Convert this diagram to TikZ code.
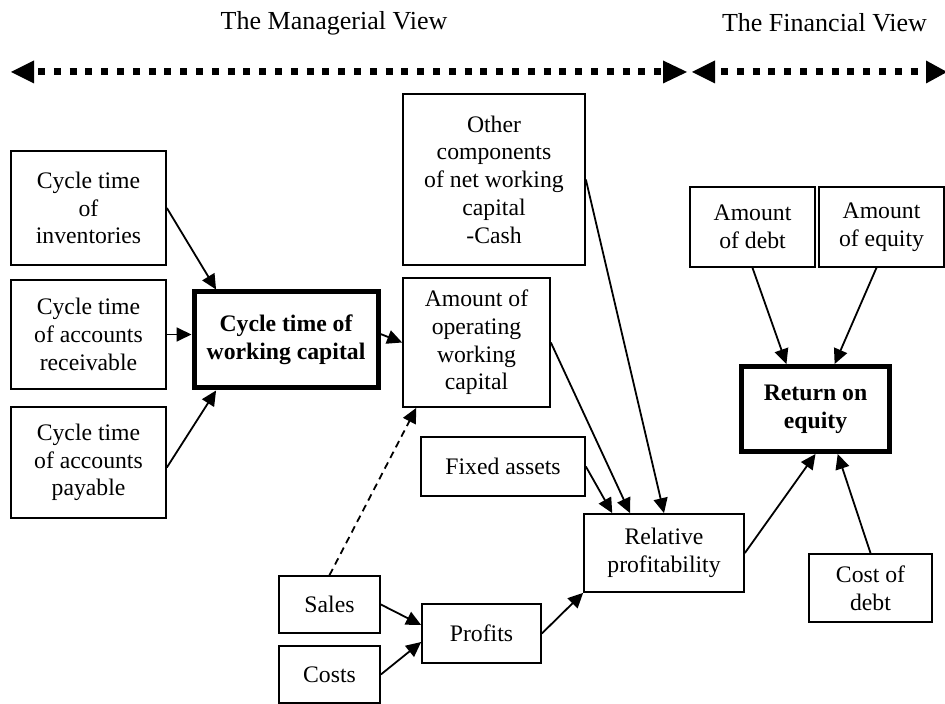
\documentclass[tikz,border=0pt]{standalone}
\usepackage{fontspec}
\setmainfont{Liberation Serif}
\usetikzlibrary{arrows.meta,calc}
\newcommand\bxfont{\fontsize{11.85}{13.85}\selectfont}
\newcommand\ttlfont{\fontsize{13}{15}\selectfont}

\begin{document}
\begin{tikzpicture}[x=0.5pt,y=-0.5pt,
  box/.style={draw, line width=0.85pt, inner sep=0pt, align=center, font=\bxfont},
  keybox/.style={box, line width=2.5pt, font=\bxfont\bfseries},
  link/.style={line width=0.9pt, -{Triangle[length=7.5pt,width=7pt]}},
  dlink/.style={link, dash pattern=on 3.5pt off 2.5pt},
  viewline/.style={line width=3.5pt, dash pattern=on 3.5pt off 4.4pt},
  viewhead/.style={fill=black},
  headtitle/.style={font=\ttlfont, inner sep=0pt}]

\useasboundingbox (0,0) rectangle (945,704);

% headings and the two view ranges
\node[headtitle] (tman) at (334,23) {The Managerial View};
\node[headtitle] (tfin) at (824.5,23) {The Financial View};

\coordinate (mL) at (11,72);
\coordinate (mR) at (687,72);
\coordinate (fL) at (692,72);
\coordinate (fR) at (947,72);

\draw[viewline] ($(mL)+(27,0)$) -- ($(mR)+(-25,0)$);
\draw[viewline] ($(fL)+(29,0)$) -- ($(fR)+(-23,0)$);
\fill[viewhead] (mL) -- ++(23,-11.5) -- ++(0,23) -- cycle;
\fill[viewhead] (mR) -- ++(-24,-11.5) -- ++(0,23) -- cycle;
\fill[viewhead] (fL) -- ++(23,-11.5) -- ++(0,23) -- cycle;
\fill[viewhead] (fR) -- ++(-21,-11.5) -- ++(0,23) -- cycle;

% managerial side
\node[box, minimum width=77.5pt, minimum height=57pt]   (inv) at (88.5,208)   {Cycle time\\of\\inventories};
\node[box, minimum width=77.5pt, minimum height=54.5pt] (rec) at (88.5,334.5) {Cycle time\\of accounts\\receivable};
\node[box, minimum width=77.5pt, minimum height=55.5pt] (pay) at (88.5,462.5) {Cycle time\\of accounts\\payable};
\node[keybox, minimum width=92pt, minimum height=48pt]  (ctwc) at (286,340)   {Cycle time of\\working capital};

\node[box, minimum width=91pt, minimum height=85.5pt]   (other) at (494,179.5) {Other\\components\\of net working\\capital\\-Cash};
\node[box, minimum width=73.5pt, minimum height=64.5pt] (aowc) at (476.5,342.5) {Amount of\\operating\\working\\capital};
\node[box, minimum width=82pt, minimum height=29.5pt]   (fixed) at (503,466.5) {Fixed assets};
\node[box, minimum width=80pt, minimum height=39pt]     (relp) at (664,553)   {Relative\\profitability};

\node[box, minimum width=50.5pt, minimum height=28.5pt] (sales) at (329.5,604.5) {Sales};
\node[box, minimum width=50.5pt, minimum height=28.5pt] (costs) at (329.5,674.5) {Costs};
\node[box, minimum width=59.5pt, minimum height=29.5pt] (profits) at (481.5,633.5) {Profits};

% financial side
\node[box, minimum width=62.5pt, minimum height=40pt]   (debt) at (752.5,227) {Amount\\of debt};
\node[box, minimum width=62.5pt, minimum height=40pt]   (equity) at (881.5,227) {Amount\\of equity};
\node[keybox, minimum width=74pt, minimum height=42.5pt] (roe) at (815.5,409) {Return on\\equity};
\node[box, minimum width=61.5pt, minimum height=34pt]   (cod) at (870.5,588) {Cost of\\debt};

% connectors
\draw[link] (inv.east) -- ($(ctwc.north west)!0.13!(ctwc.north east)$);
\draw[link] (rec.east) -- (rec.east -| ctwc.west);
\draw[link] ($(pay.east)+(0,5)$) -- ($(ctwc.south west)!0.13!(ctwc.south east)$);
\draw[link] ($(ctwc.east)+(0,-6)$) -- (aowc.west);

\draw[link] (other.east) -- (relp.north);
\draw[link] (aowc.east) -- ($(relp.north west)!0.29!(relp.north east)$);
\draw[link] (fixed.east) -- ($(relp.north west)!0.18!(relp.north east)$);
\draw[dlink] (sales.north) -- ($(aowc.south west)!0.095!(aowc.south east)$);
\draw[link] (sales.east) -- ($(profits.north west)!0.36!(profits.south west)$);
\draw[link] (costs.east) -- ($(profits.north west)!0.64!(profits.south west)$);
\draw[link] (profits.east) -- (relp.south west);

\draw[link] (relp.east) -- (roe.south);
\draw[link] (cod.north) -- ($(roe.south west)!0.645!(roe.south east)$);
\draw[link] (debt.south) -- ($(roe.north west)!0.31!(roe.north east)$);
\draw[link] ($(equity.south west)!0.46!(equity.south east)$) -- ($(roe.north west)!0.625!(roe.north east)$);
\end{tikzpicture}
\end{document}
